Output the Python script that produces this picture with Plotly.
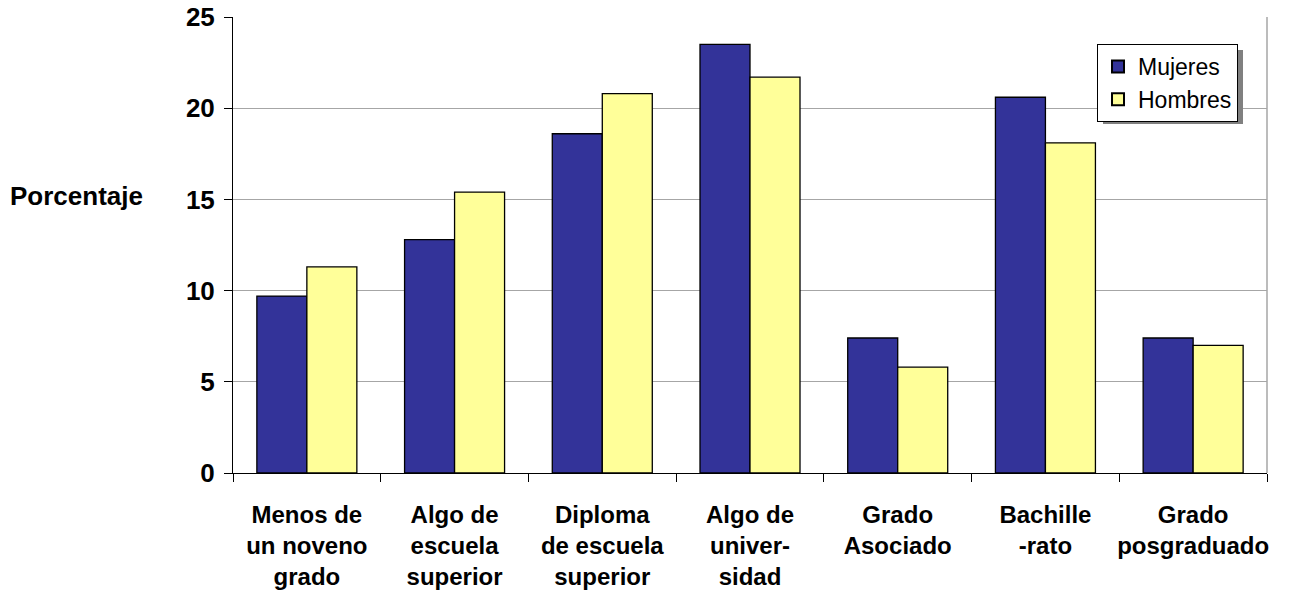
import plotly.graph_objects as go

categories = [
    "Menos de<br>un noveno<br>grado",
    "Algo de<br>escuela<br>superior",
    "Diploma<br>de escuela<br>superior",
    "Algo de<br>univer-<br>sidad",
    "Grado<br>Asociado",
    "Bachille<br>-rato",
    "Grado<br>posgraduado",
]
mujeres = [9.7, 12.8, 18.6, 23.5, 7.4, 20.6, 7.4]
hombres = [11.3, 15.4, 20.8, 21.7, 5.8, 18.1, 7.0]
y_ticks = [0, 5, 10, 15, 20, 25]

FONT = "Arial, Liberation Sans, sans-serif"

fig = go.Figure()
fig.add_trace(go.Bar(
    name="Mujeres", x=categories, y=mujeres,
    marker=dict(color="#333399", line=dict(color="#000000", width=1.3)),
))
fig.add_trace(go.Bar(
    name="Hombres", x=categories, y=hombres,
    marker=dict(color="#FFFF99", line=dict(color="#000000", width=1.3)),
))

fig.update_layout(
    width=1293, height=590,
    margin=dict(l=233, r=26, t=17, b=117, pad=0, autoexpand=False),
    paper_bgcolor="white", plot_bgcolor="white",
    barmode="group", bargap=0.323, bargroupgap=0,
    font=dict(family=FONT, color="black"),
    showlegend=True,
    legend=dict(
        x=0.8356, y=0.9408, xanchor="left", yanchor="top",
        bgcolor="white", bordercolor="black", borderwidth=1,
        font=dict(family=FONT, size=23, color="black"),
        tracegroupgap=0, itemsizing="constant",
    ),
    xaxis=dict(
        tickson="boundaries", ticks="outside", ticklen=8, tickcolor="black",
        showline=True, linecolor="black", linewidth=1,
        showgrid=False, tickangle=0, automargin=False,
        tickfont=dict(family=FONT, size=24, color="black", weight="bold"),
        ticklabelstandoff=20,
    ),
    yaxis=dict(
        range=[0, 25], tickvals=y_ticks, automargin=False,
        ticks="outside", ticklen=8, tickcolor="black",
        showline=True, linecolor="black", linewidth=1,
        showgrid=True, gridcolor="#A6A6A6", gridwidth=1,
        zeroline=False,
        tickfont=dict(family=FONT, size=26, color="black", weight="bold"),
        ticklabelstandoff=4,
    ),
    shapes=[
        dict(type="line", xref="paper", yref="paper", x0=1, x1=1, y0=0, y1=1,
             line=dict(color="#A6A6A6", width=1.5)),
        dict(type="rect", xref="paper", yref="paper",
             x0=(1103 - 233) / 1034, x1=(1243 - 233) / 1034,
             y0=(473 - 124) / 456, y1=(473 - 50) / 456,
             fillcolor="#808080", line=dict(width=0), layer="above"),
    ],
    annotations=[
        dict(text="<b>Porcentaje</b>", xref="paper", yref="paper",
             x=(76 - 233) / 1034, y=(473 - 196) / 456,
             xanchor="center", yanchor="middle", showarrow=False,
             font=dict(family=FONT, size=26, color="black")),
    ],
)

fig.write_html("out.html", config={"displayModeBar": False},
               post_script="document.body.style.margin='0px';")
